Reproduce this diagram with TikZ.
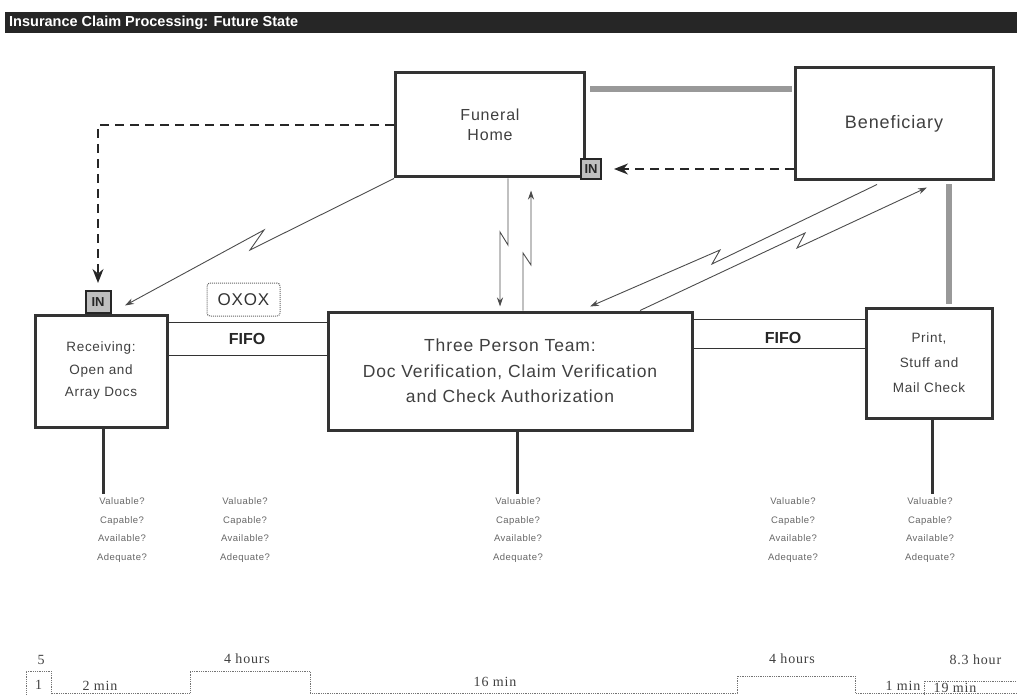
\documentclass[tikz,border=0pt]{standalone}
\usepackage{fontspec}
\setmainfont{Liberation Sans}
\newfontfamily\boxfont[LetterSpace=5]{Liberation Sans}
\newfontfamily\tlfont[LetterSpace=6]{Liberation Serif}
\usetikzlibrary{arrows.meta,calc}
\begin{document}
\begin{tikzpicture}[x=1pt,y=-1pt,
  proc/.style={draw=black!80, line width=3pt, fill=white, align=center, inner sep=0pt, text=black!75},
  inbox/.style={draw=black!85, line width=2pt, fill=black!25, font=\bfseries\fontsize{13}{13}\selectfont, inner sep=0pt, minimum width=20pt, minimum height=20pt, text=black!85},
  dasharrow/.style={draw=black!85, line width=1.3pt, dash pattern=on 9pt off 6pt, -{Stealth[length=14pt,width=11pt]}},
  bolt/.style={draw=black!70, line width=0.9pt, -{Stealth[length=9pt,width=6pt]}},
  graybar/.style={draw=black!40, line width=6pt},
  stem/.style={draw=black!80, line width=3pt},
  fifoline/.style={draw=black!80, line width=1pt},
  fifotext/.style={font=\bfseries\fontsize{16}{16}\selectfont, text=black!85},
  qtext/.style={align=center, font=\boxfont\fontsize{9.5}{18.5}\selectfont, text=black!60},
  tl/.style={draw=black!55, line width=0.8pt, densely dotted},
  tltext/.style={font=\tlfont\fontsize{14}{14}\selectfont, text=black!75},
]
\useasboundingbox (0,0) rectangle (1017,695);

% title
\node[fill=black!85, minimum width=1012pt, minimum height=21pt, anchor=north west, inner sep=0pt] (titlebar) at (5,12) {};
\node[anchor=west, text=white, font=\bfseries\fontsize{14.5}{14.5}\selectfont, inner sep=0pt] (title) at (9,22.5) {Insurance Claim Processing: Future State};

% coordinates for bends
\coordinate (b1a) at (250,250); \coordinate (b1b) at (264,230);
\coordinate (b2a) at (508,245); \coordinate (b2b) at (500,232);
\coordinate (b3a) at (523,253); \coordinate (b3b) at (531,265);
\coordinate (b4a) at (712,264); \coordinate (b4b) at (720,250);
\coordinate (b5a) at (805,233); \coordinate (b5b) at (797,248);

% boxes
\node[proc, minimum width=189pt, minimum height=104pt, font=\boxfont\fontsize{16}{20}\selectfont] (fh) at (490,125) {Funeral\\Home};
\node[proc, minimum width=198pt, minimum height=112pt, font=\boxfont\fontsize{18}{22}\selectfont] (ben) at (894,124) {Beneficiary};
\node[proc, minimum width=132pt, minimum height=112pt, font=\boxfont\fontsize{13.5}{22.5}\selectfont] (rec) at (101,371) {Receiving:\\Open and\\Array Docs};
\node[proc, minimum width=364pt, minimum height=118pt, font=\boxfont\fontsize{17.5}{25.5}\selectfont] (tpt) at (510,371) {Three Person Team:\\Doc Verification, Claim Verification\\and Check Authorization};
\node[proc, minimum width=126pt, minimum height=110pt, font=\boxfont\fontsize{13.5}{25}\selectfont] (prt) at (929,363) {Print,\\Stuff and\\Mail Check};

% gray bars
\draw[graybar] ($(fh.east)+(4,-36)$) -- ($(ben.west)+(-2,-35)$);
\draw[graybar] ($(ben.south)+(55,3)$) -- ($(prt.north)+(20,-3)$);

% IN boxes
\node[inbox] (inFH) at (591,169) {IN};
\node[inbox, minimum width=25pt, minimum height=22pt] (inRec) at (98,302) {IN};

% dashed arrows
\draw[dasharrow, shorten >=7pt] (fh.west) -| (inRec.north);
\draw[dasharrow, shorten >=12pt] (inFH.east -| ben.west) -- (inFH.east);

% electronic flows
\draw[bolt] (fh.south west) -- (b1a) -- (b1b) -- ($(rec.north)+(24,-8)$);
\draw[bolt] ($(fh.south)+(18,0)$) -- (b2a) -- (b2b) -- ($(tpt.north)+(-10,-4)$);
\draw[bolt] ($(tpt.north)+(13,0)$) -- (b3a) -- (b3b) -- ($(fh.south)+(41,12)$);
\draw[bolt] ($(ben.south)+(-17,3)$) -- (b4a) -- (b4b) -- ($(tpt.north)+(80,-4)$);
\draw[bolt] ($(tpt.north)+(130,0)$) -- (b5a) -- (b5b) -- ($(ben.south)+(33,6)$);

% FIFO lanes
\draw[fifoline] ($(rec.east)+(0,-49)$) -- ($(tpt.west)+(0,-49)$);
\draw[fifoline] ($(rec.east)+(0,-16)$) -- ($(tpt.west)+(0,-16)$);
\node[fifotext] (fifo1) at (247,339) {FIFO};
\draw[fifoline] ($(tpt.east)+(0,-52)$) -- ($(prt.west)+(0,-44)$);
\draw[fifoline] ($(tpt.east)+(0,-23)$) -- ($(prt.west)+(0,-15)$);
\node[fifotext] (fifo2) at (783,338) {FIFO};

% OXOX
\node[draw=black!60, densely dotted, line width=1pt, rounded corners=3pt, minimum width=73pt, minimum height=33pt, font=\boxfont\fontsize{17}{17}\selectfont, text=black!80] (oxox) at (243.5,299.5) {OXOX};

% questions
\node[qtext] (q1) at (122,530) {Valuable?\\Capable?\\Available?\\Adequate?};
\node[qtext] (q2) at (245,530) {Valuable?\\Capable?\\Available?\\Adequate?};
\node[qtext] (q3) at (518,530) {Valuable?\\Capable?\\Available?\\Adequate?};
\node[qtext] (q4) at (793,530) {Valuable?\\Capable?\\Available?\\Adequate?};
\node[qtext] (q5) at (930,530) {Valuable?\\Capable?\\Available?\\Adequate?};

\coordinate (s1) at ($(rec.south)+(2,0)$);
\coordinate (s3) at ($(tpt.south)+(7,0)$);
\coordinate (s5) at ($(prt.south)+(3,0)$);
\draw[stem] (s1) -- (s1 |- q1.north);
\draw[stem] (s3) -- (s3 |- q3.north);
\draw[stem] (s5) -- (s5 |- q5.north);

% timeline
\node[tltext] (t5) at (41,660) {5};
\draw[tl] (26,698) -- (26,671) -- (51,671) -- (51,698);
\node[tltext] (t1) at (38.5,685) {1};
\draw[tl] (52,693) -- (190,693) -- (190,671) -- (310,671) -- (310,693) -- (737,693) -- (737,676) -- (855,676) -- (855,693) -- (1017,693);
\draw[tl] (924,698) -- (924,681) -- (1017,681);
\node[tltext] (t2m) at (100,686) {2 min};
\node[tltext] (t4h1) at (247,659) {4 hours};
\node[tltext] (t16) at (495,682) {16 min};
\node[tltext] (t4h2) at (792,659) {4 hours};
\node[tltext] (t1m) at (903,686) {1 min};
\node[tltext] (t19) at (955,688) {19 min};
\node[tltext, anchor=west] (t83) at (946,660) {8.3 hour};
\end{tikzpicture}
\end{document}
